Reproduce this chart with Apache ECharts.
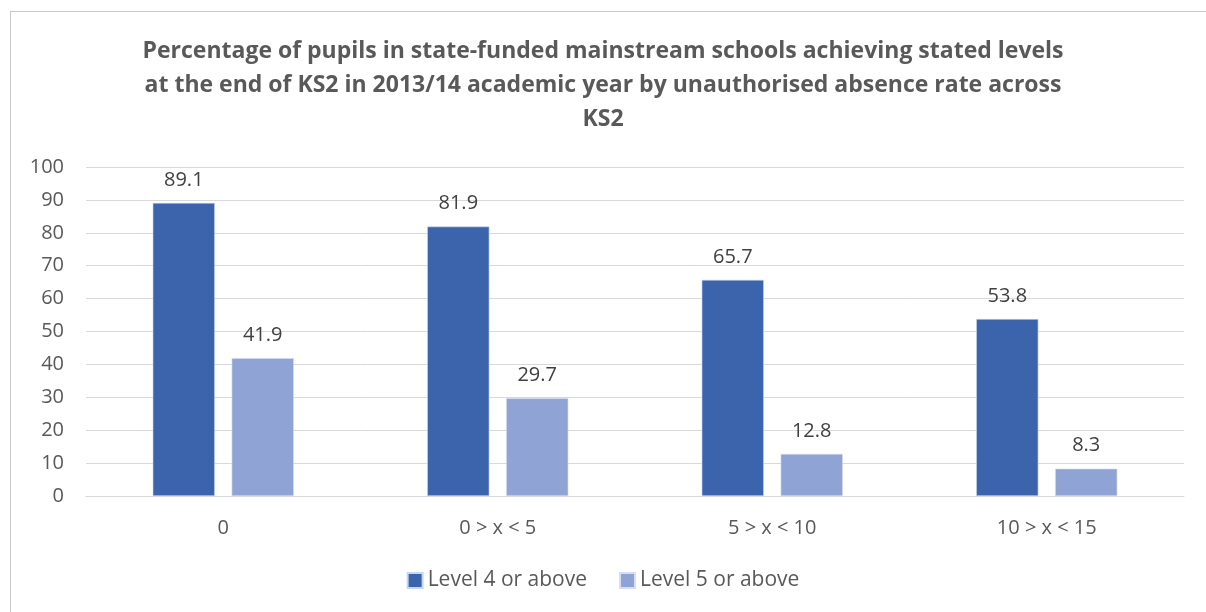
<!DOCTYPE html>
<html>
<head>
<meta charset="utf-8">
<script src="https://cdn.jsdelivr.net/npm/echarts@6/dist/echarts.min.js"></script>
<style>
  html, body { margin: 0; padding: 0; background: #fff; }
  .frame {
    position: absolute; left: 10px; top: 11px;
    width: 1205px; height: 610px;
    border: 1px solid #c8c8c8;
    box-sizing: border-box;
  }
  #chart { position: absolute; left: 0; top: 0; width: 1206px; height: 612px; }
</style>
</head>
<body>
<div class="frame"></div>
<div id="chart"></div>
<script>
  const categories = ['0', '0 > x < 5', '5 > x < 10', '10 > x < 15']
  const level4 = [89.1, 81.9, 65.7, 53.8]
  const level5 = [41.9, 29.7, 12.8, 8.3]
  const seriesNames = ['Level 4 or above', 'Level 5 or above']

  const font = 'Open Sans'
  const myChart = echarts.init(document.getElementById('chart'))

  const labelStyle = {
    show: true,
    position: 'top',
    distance: 13,
    color: '#404040',
    fontFamily: font,
    fontSize: 20
  }

  const option = {
    backgroundColor: 'transparent',
    animation: false,
    title: {
      text: 'Percentage of pupils in state-funded mainstream schools achieving stated levels\nat the end of KS2 in 2013/14 academic year by unauthorised absence rate across\nKS2',
      left: 'center',
      top: 29,
      textStyle: {
        color: '#595959',
        fontFamily: font,
        fontWeight: 'bold',
        fontSize: 23,
        lineHeight: 34,
        align: 'center'
      }
    },
    legend: {
      bottom: 16,
      left: 'center',
      itemWidth: 15,
      itemHeight: 15,
      itemGap: 32,
      icon: 'rect',
      textStyle: { color: '#595959', fontFamily: font, fontSize: 21 },
      data: seriesNames
    },
    grid: { left: 86, right: 22, top: 167, bottom: 116 },
    xAxis: {
      type: 'category',
      data: categories,
      axisTick: { show: false },
      axisLine: { lineStyle: { color: '#d9d9d9', width: 1 } },
      axisLabel: { color: '#595959', fontFamily: font, fontSize: 20, margin: 22 }
    },
    yAxis: {
      type: 'value',
      min: 0,
      max: 100,
      interval: 10,
      axisLine: { show: false },
      axisTick: { show: false },
      splitLine: { lineStyle: { color: '#d9d9d9', width: 1 } },
      axisLabel: { color: '#595959', fontFamily: font, fontSize: 20, margin: 22 }
    },
    series: [
      {
        name: seriesNames[0],
        type: 'bar',
        data: level4,
        barGap: '27%',
        barCategoryGap: '48.6%',
        itemStyle: { color: '#3c64ad', borderColor: '#c9d6f0', borderWidth: 0.6 },
        label: labelStyle
      },
      {
        name: seriesNames[1],
        type: 'bar',
        data: level5,
        itemStyle: { color: '#8fa3d5', borderColor: '#d5def2', borderWidth: 0.6 },
        label: labelStyle
      }
    ]
  }

  myChart.setOption(option)
</script>
</body>
</html>
